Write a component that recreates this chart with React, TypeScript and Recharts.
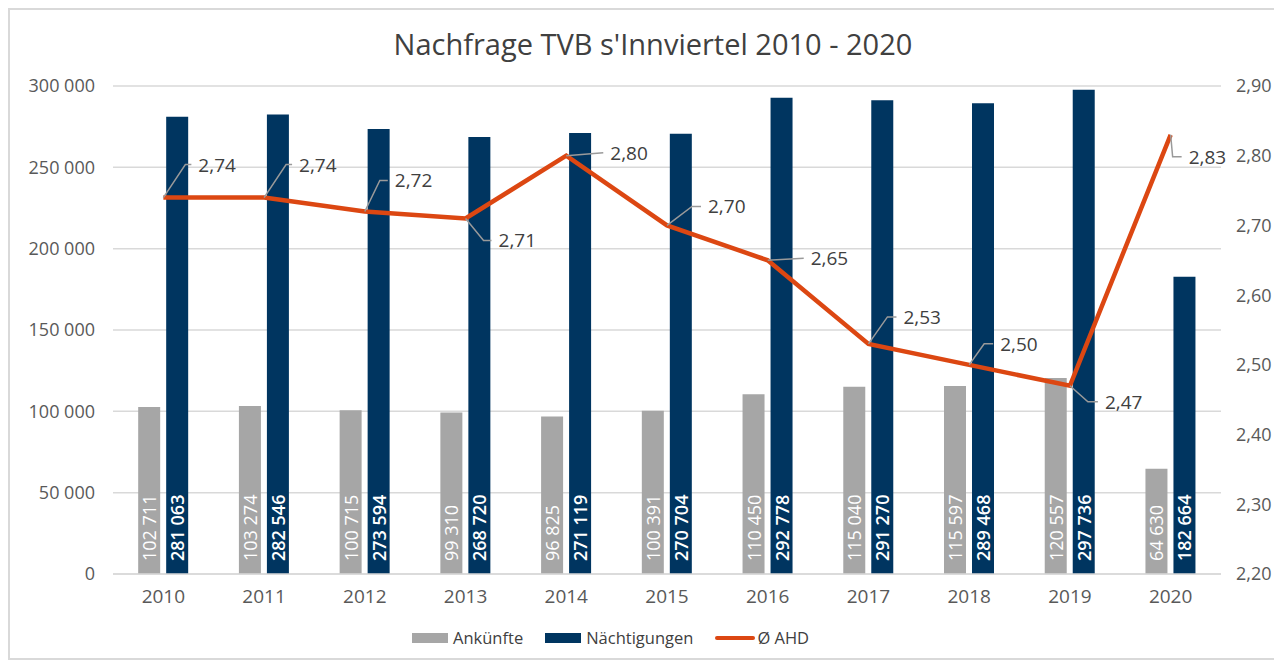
import React from 'react';
import { ComposedChart, Bar, Line, XAxis, YAxis, CartesianGrid, LabelList } from 'recharts';

// values
const years = ['2010', '2011', '2012', '2013', '2014', '2015', '2016', '2017', '2018', '2019', '2020'];
const ankuenfte = [102711, 103274, 100715, 99310, 96825, 100391, 110450, 115040, 115597, 120557, 64630];
const naechtigungen = [281063, 282546, 273594, 268720, 271119, 270704, 292778, 291270, 289468, 297736, 182664];
const ahd = [2.74, 2.74, 2.72, 2.71, 2.8, 2.7, 2.65, 2.53, 2.5, 2.47, 2.83];
const leftTicks = [0, 50000, 100000, 150000, 200000, 250000, 300000];
const rightTicks = [2.2, 2.3, 2.4, 2.5, 2.6, 2.7, 2.8, 2.9];

// leader line placement for the AHD labels: [elbow dx, elbow dy, horizontal run]
const ahdLeaders: [number, number, number][] = [
  [22, -33, 6], [22, -33, 6], [15, -31, 8], [18, 22, 8], [37, -3, 0],
  [25, -19, 9], [36, -2, 0], [19, -27, 9], [15, -21, 9], [18, 16, 10], [2, 22, 9],
];

const GREY = '#a6a6a6';
const NAVY = '#003560';
const ORANGE = '#dc4712';
const FONT = '"Open Sans", "Noto Sans", sans-serif';

const rows = years.map((y, i) => ({
  year: y,
  ankuenfte: ankuenfte[i],
  naechtigungen: naechtigungen[i],
  ahd: ahd[i],
}));

const fmtThousands = (v: number) => String(v).replace(/\B(?=(\d{3})+(?!\d))/g, ' ');
const fmtDec = (v: number) => v.toFixed(2).replace('.', ',');

const barLabel = (bold: boolean) => (props: any) => {
  const { x, y, width, height, value } = props;
  const cx = x + width / 2;
  const cy = y + height - 13;
  return (
    <text
      x={cx}
      y={cy}
      transform={`rotate(-90 ${cx} ${cy})`}
      textAnchor="start"
      dominantBaseline="central"
      fill="#ffffff"
      fontSize={18}
      fontWeight={bold ? 600 : 400}
      fontFamily={FONT}
    >
      {fmtThousands(value)}
    </text>
  );
};

const ahdLabel = (props: any) => {
  const { x, y, value, index } = props;
  const [dx, dy, run] = ahdLeaders[index];
  const ex = x + dx;
  const ey = y + dy;
  return (
    <g>
      <path d={`M${x},${y}L${ex},${ey}L${ex + run},${ey}`} stroke="#9a9a9a" strokeWidth={1.5} fill="none" />
      <text
        x={ex + run + 7}
        y={ey}
        dominantBaseline="central"
        fill="#404040"
        fontSize={19}
        fontFamily={FONT}
      >
        {fmtDec(value)}
      </text>
    </g>
  );
};

const legendItems = [
  { name: 'Ankünfte', color: GREY, type: 'bar' },
  { name: 'Nächtigungen', color: NAVY, type: 'bar' },
  { name: 'Ø AHD', color: ORANGE, type: 'line' },
];

export default function App() {
  return (
    <div
      style={{
        position: 'relative',
        width: 1268,
        height: 652,
        border: '2px solid #d9d9d9',
        boxSizing: 'border-box',
        background: '#fff',
        fontFamily: FONT,
      }}
    >
      <div
        style={{
          position: 'absolute',
          top: 14,
          left: 0,
          width: '100%',
          paddingLeft: 22,
          boxSizing: 'border-box',
          textAlign: 'center',
          fontSize: 29,
          color: '#404040',
        }}
      >
        Nachfrage TVB s'Innviertel 2010 - 2020
      </div>

      <ComposedChart
        width={1264}
        height={648}
        data={rows}
        margin={{ top: 76, right: 0, left: 0, bottom: 54 }}
        barGap={6}
        barCategoryGap="25%"
      >
        <CartesianGrid vertical={false} stroke="#d9d9d9" strokeWidth={1.5} yAxisId="left" />
        <XAxis
          dataKey="year"
          height={30}
          tickSize={0}
          tickMargin={16}
          axisLine={{ stroke: '#d9d9d9', strokeWidth: 1.5 }}
          tick={{ fill: '#595959', fontSize: 19, fontFamily: FONT }}
        />
        <YAxis
          yAxisId="left"
          orientation="left"
          width={103}
          domain={[0, 300000]}
          ticks={leftTicks}
          tickFormatter={fmtThousands}
          tickSize={0}
          tickMargin={18}
          axisLine={false}
          tick={{ fill: '#595959', fontSize: 18, fontFamily: FONT }}
        />
        <YAxis
          yAxisId="right"
          orientation="right"
          width={53}
          domain={[2.2, 2.9]}
          ticks={rightTicks}
          tickFormatter={fmtDec}
          tickSize={0}
          tickMargin={15}
          axisLine={false}
          tick={{ fill: '#595959', fontSize: 18, fontFamily: FONT }}
        />
        <Bar yAxisId="left" dataKey="ankuenfte" name="Ankünfte" fill={GREY} isAnimationActive={false}>
          <LabelList dataKey="ankuenfte" content={barLabel(false)} />
        </Bar>
        <Bar yAxisId="left" dataKey="naechtigungen" name="Nächtigungen" fill={NAVY} isAnimationActive={false}>
          <LabelList dataKey="naechtigungen" content={barLabel(true)} />
        </Bar>
        <Line
          yAxisId="right"
          dataKey="ahd"
          name="Ø AHD"
          stroke={ORANGE}
          strokeWidth={4.5}
          dot={false}
          activeDot={false}
          isAnimationActive={false}
        >
          <LabelList dataKey="ahd" content={ahdLabel} />
        </Line>
      </ComposedChart>

      <div
        style={{
          position: 'absolute',
          top: 616,
          left: 402,
          display: 'flex',
          alignItems: 'center',
          fontSize: 16.5,
          color: '#404040',
        }}
      >
        {legendItems.map((it) => (
          <div key={it.name} style={{ display: 'flex', alignItems: 'center', marginRight: 22 }}>
            {it.type === 'bar' ? (
              <span style={{ display: 'inline-block', width: 36, height: 10, background: it.color, marginRight: 5 }} />
            ) : (
              <span
                style={{ display: 'inline-block', width: 40, height: 4, borderRadius: 2, background: it.color, marginRight: 2 }}
              />
            )}
            <span>{it.name}</span>
          </div>
        ))}
      </div>
    </div>
  );
}
